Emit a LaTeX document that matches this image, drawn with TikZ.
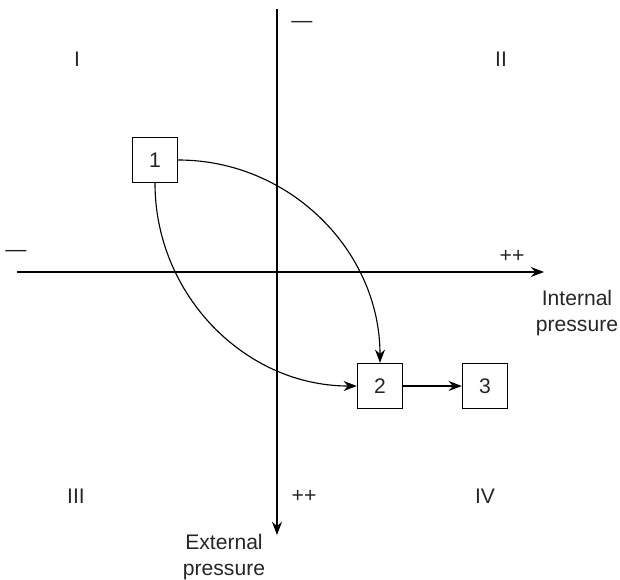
\documentclass[tikz,border=0pt]{standalone}
\usepackage{fontspec}
\setmainfont{Liberation Sans}
\usetikzlibrary{arrows.meta}

\begin{document}
\begin{tikzpicture}[
    x=0.025cm, y=-0.025cm,
    every node/.style={font=\fontsize{15}{18.5}\selectfont, text=black!85},
    box/.style={rectangle, draw, line width=1pt, minimum size=1.125cm, inner sep=0pt},
    arrow/.style={-{Stealth[length=0.33cm, width=0.25cm]}, line width=0.8pt}
]
    \useasboundingbox (0,0) rectangle (620,580);

    % Axes
    \coordinate (v_top) at (277, 9);
    \coordinate (v_bot) at (277, 535);
    \coordinate (h_left) at (17, 272);
    \coordinate (h_right) at (544, 272);
    \draw[arrow] (v_top) -- (v_bot);
    \draw[arrow] (h_left) -- (h_right);

    % Axis labels
    \node (minus_top) at (302, 24) {---};
    \node (minus_left) at (16, 253) {---};
    \node (plus_right) at (512, 256) {++};
    \node (plus_bot) at (304, 496) {++};
    \node[align=center] (internal) at (577, 313) {Internal\\pressure};
    \node[align=center] (external) at (224, 557) {External\\pressure};

    % Quadrants
    \node (q_one) at (77, 59) {I};
    \node (q_two) at (501, 59) {II};
    \node (q_three) at (76, 496) {III};
    \node (q_four) at (485, 496) {IV};

    % Boxes
    \node[box] (one) at (155, 160) {1};
    \node[box] (two) at (380, 386) {2};
    \node[box] (three) at (485, 386) {3};

    \draw[arrow] (one.east) to[out=0, in=90] (two.north);
    \draw[arrow] (one.south) to[out=-90, in=180] (two.west);
    \draw[arrow] (two) -- (three);
\end{tikzpicture}
\end{document}
